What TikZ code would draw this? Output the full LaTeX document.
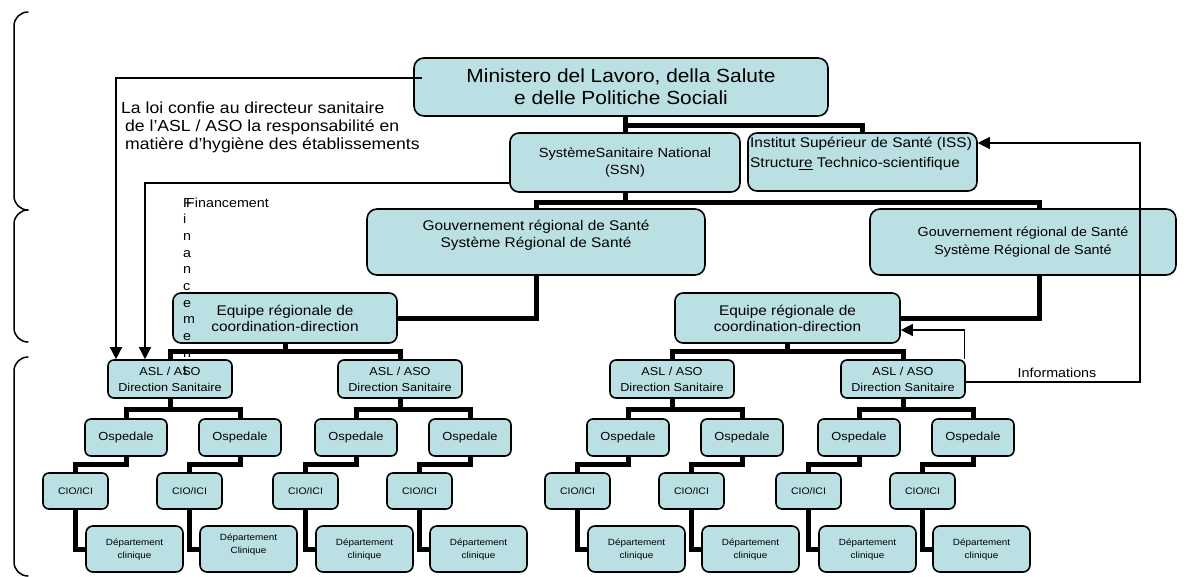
\documentclass[tikz,border=0pt]{standalone}
\usepackage{fontspec}
\setmainfont{Liberation Sans}[FakeStretch=1.1]
\usetikzlibrary{arrows.meta,calc}
\definecolor{boxfill}{RGB}{187,224,227}
\newcommand\myfs[2]{\fontsize{#1}{#2}\selectfont}
\begin{document}
\begin{tikzpicture}[x=1pt,y=-1pt,
  box/.style={draw=black,line width=1.6pt,fill=boxfill,rounded corners=7pt,align=center,inner sep=0pt},
  txt/.style={inner sep=0pt,align=center},
  conn/.style={line width=5pt},
  thinline/.style={line width=1.3pt},
  arr/.style={line width=1.3pt,-{Triangle[length=12pt,width=12pt]}},
  brk/.style={line width=1.5pt,line cap=round}]
\useasboundingbox (0,0) rectangle (1189,576);

% brackets
\draw[brk] (28,12) to[out=180,in=90] (14,26) -- (14,196) to[out=-90,in=180] (28,210);
\draw[brk] (28,210) to[out=180,in=90] (14,224) -- (14,328) to[out=-90,in=180] (28,342);
\draw[brk] (28,357) to[out=180,in=90] (14,371) -- (14,562) to[out=-90,in=180] (28,576);

% top boxes
\node[box,minimum width=414pt,minimum height=58pt,rounded corners=10pt,font=\myfs{19}{22}] (min) at (621,87) {Ministero del Lavoro, della Salute\\e delle Politiche Sociali};
\node[box,minimum width=230pt,minimum height=59pt,rounded corners=9pt,font=\myfs{13.3}{17}] (ssn) at (625,162.5) {SystèmeSanitaire National\\(SSN)};
\node[box,minimum width=229pt,minimum height=58pt,rounded corners=9pt] (iss) at (862.5,162) {};
\node[txt,align=left,anchor=north west,font=\myfs{14}{20}] (isst) at (750,137) {Institut Supérieur de Santé (ISS)\\Structu\underline{re} Technico-scientifique};

\node[box,minimum width=338pt,minimum height=66pt,rounded corners=10pt] (gov1) at (536,242) {};
\node[txt,font=\myfs{14}{17}] (gov1t) at (536,235) {Gouvernement régional de Santé\\Système Régional de Santé};
\node[box,minimum width=306pt,minimum height=66pt,rounded corners=10pt,font=\myfs{13}{18}] (gov2) at (1023,242) {Gouvernement régional de Santé\\Système Régional de Santé};

\node[box,minimum width=224pt,minimum height=50pt,rounded corners=8pt,font=\myfs{14}{16}] (eq1) at (285,318) {Equipe régionale de\\coordination-direction};
\node[box,minimum width=225pt,minimum height=50pt,rounded corners=8pt,font=\myfs{14}{16}] (eq2) at (787.5,318) {Equipe régionale de\\coordination-direction};

% thick connectors, top
\draw[conn] (min.south -| ssn.north) -- (ssn.north);
\draw[conn] ($(min.south -| ssn.north)+(0,9)$) -| (iss.north);
\draw[conn] (ssn.south) -- ++(0,10);
\draw[conn] (gov1.north) |- ($(ssn.south)+(0,10)$) -| ([xshift=16.5pt]gov2.north);
\draw[conn] (gov1.south) |- (eq1.east);
\draw[conn] ([xshift=16.5pt]gov2.south) |- (eq2.east);

% bottom groups
\foreach \g/\a in {1/170,2/400,3/672,4/903} {
  \node[box,minimum width=124pt,minimum height=38pt,rounded corners=6pt,font=\myfs{11.5}{16}] (asl\g) at (\a,379) {ASL / ASO\\Direction Sanitaire};
}
\foreach \g/\k/\ox/\dtx/\dyy in {1/1/126/clinique/0,1/2/240/Clinique/-5,2/1/356/clinique/0,2/2/470/clinique/0,
                                 3/1/628/clinique/0,3/2/742/clinique/0,4/1/859/clinique/0,4/2/973/clinique/0} {
  \node[box,minimum width=82pt,minimum height=37pt,rounded corners=6pt,font=\myfs{11.7}{14}] (osp\g\k) at (\ox,437.5) {Ospedale};
  \node[box,minimum width=65pt,minimum height=36pt,rounded corners=6pt,font=\myfs{9.5}{12}] (cio\g\k) at (\ox-50.5,491) {CIO/ICI};
  \node[box,minimum width=97pt,minimum height=46pt,rounded corners=7pt] (dep\g\k) at (\ox+8.5,549) {};
  \node[txt,font=\myfs{9}{13}] (dept\g\k) at (\ox+8.5,550+\dyy) {Département\\\dtx};
  \draw[conn] (osp\g\k.south) -- ++(0,8) -| (cio\g\k.north);
  \draw[conn] (cio\g\k.south) |- (dep\g\k.west);
}
\foreach \g in {1,2,3,4} {
  \draw[conn] (osp\g1.north) |- ($(asl\g.south)+(0,11)$) -| (osp\g2.north);
  \draw[conn] (asl\g.south) -- ++(0,11);
}
\draw[conn] (asl1.north) |- ($(eq1.south)+(0,8)$) -| (asl2.north);
\draw[conn] (eq1.south) -- ++(0,8);
\draw[conn] (asl3.north) |- ($(eq2.south)+(0,8)$) -| (asl4.north);
\draw[conn] (eq2.south) -- ++(0,8);

% thin arrows
\draw[arr] ([xshift=9pt,yshift=9pt]min.west) -| ([xshift=-54pt]asl1.north);
\draw[arr] ([yshift=-20.5pt]ssn.west) -| ([xshift=-25pt]asl1.north);
\coordinate (infoR) at (1140,262);
\draw[arr] ([yshift=-3pt]asl4.east) -| (infoR) |- ([yshift=19pt]iss.east);
\draw[arr] ([xshift=-1pt]asl4.north east) |- ([yshift=-12pt]eq2.east);
\node[txt,anchor=base,font=\myfs{13}{15}] (info) at (1057,377.5) {Informations};

% law text
\node[txt,anchor=base west,font=\myfs{16}{18}] (loi1) at (121,113) {La loi confie au directeur sanitaire};
\node[txt,anchor=base west,font=\myfs{16}{18}] (loi2) at (125,131) {de l’ASL / ASO la responsabilité en};
\node[txt,anchor=base west,font=\myfs{16}{18}] (loi3) at (125,149) {matière d’hygiène des établissements};

% Financement
\node[txt,anchor=base west,font=\myfs{13}{15}] (finh) at (186,207) {Financement};
\foreach \l [count=\i from 0] in {F,i,n,a,n,c,e,m,e,n,t} {
  \node[txt,anchor=base west,font=\myfs{13}{15}] (finv\i) at (183,207+16.7*\i) {\l};
}
\end{tikzpicture}
\end{document}
